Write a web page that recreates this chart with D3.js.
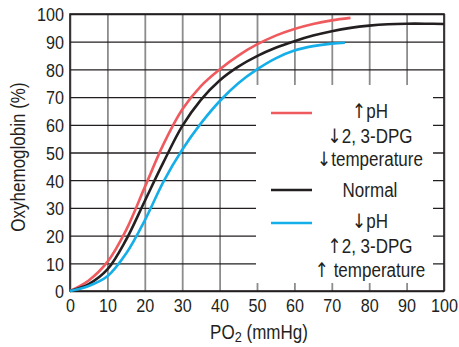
<!DOCTYPE html>
<html>
<head>
<meta charset="utf-8">
<script src="https://cdn.jsdelivr.net/npm/d3@7"></script>
<style>
  html, body { margin: 0; padding: 0; background: #fff; }
  svg text { font-family: "Liberation Sans", Arial, sans-serif; fill: #231f20; }
  svg tspan.arrow { font-family: "DejaVu Sans", sans-serif; }
</style>
</head>
<body>
<svg id="chart" width="459" height="347"></svg>
<script>
// ---- data ----
const xTicks = [0, 10, 20, 30, 40, 50, 60, 70, 80, 90, 100];
const yTicks = [0, 10, 20, 30, 40, 50, 60, 70, 80, 90, 100];

const leftPO2 = [0, 5, 10, 15, 20, 25, 30, 35, 40, 45, 50, 55, 60, 65, 70, 75];
const leftSat = [0, 3.8, 10.5, 22, 37.5, 53, 65.5, 74, 80, 85, 89, 92.2, 94.6, 96.4, 97.7, 98.6];

const normalPO2 = [0, 5, 10, 15, 20, 25, 30, 35, 40, 45, 50, 55, 60, 65, 70, 75, 80, 85, 90, 95, 100];
const normalSat = [0, 2.5, 7.8, 18.5, 32.5, 46.5, 59.5, 69, 76, 81, 84.8, 87.8, 90.2, 92.2, 93.8, 95, 95.8, 96.3, 96.5, 96.5, 96.4];

const rightPO2 = [0, 5, 10, 15, 20, 25, 30, 35, 40, 45, 50, 55, 60, 65, 70, 73.5];
const rightSat = [0, 1.8, 5.3, 13.5, 25.5, 39.5, 51, 60.5, 68.5, 75, 80, 84, 86.8, 88.4, 89.3, 89.6];

// legend entries: [arrow, rest] per line
const legendLabels = [
  [["\u2191", "pH"], ["\u2193", "2, 3-DPG"], ["\u2193", "temperature"]],
  [["", "Normal"]],
  [["\u2193", "pH"], ["\u2191", "2, 3-DPG"], ["\u2191", " temperature"]]
];
const seriesColors = ["#ef5a5e", "#231f20", "#14aee9"];

// ---- layout ----
const svg = d3.select("#chart");
const x = d3.scaleLinear().domain([0, 100]).range([70, 444]);
const y = d3.scaleLinear().domain([0, 100]).range([291, 14]);

// vertical grid (gray)
svg.append("g")
  .attr("transform", "translate(0,291)")
  .call(d3.axisBottom(x).tickValues(xTicks).tickSize(-(291 - 14)).tickFormat(""))
  .call(g => g.select(".domain").remove())
  .call(g => g.selectAll("line").attr("stroke", "#8c8c8c").attr("stroke-width", 1.8));

// horizontal grid (black)
svg.append("g")
  .attr("transform", "translate(70,0)")
  .call(d3.axisLeft(y).tickValues(yTicks).tickSize(-(444 - 70)).tickFormat(""))
  .call(g => g.select(".domain").remove())
  .call(g => g.selectAll("line").attr("stroke", "#231f20").attr("stroke-width", 1.3));

// frame
svg.append("rect")
  .attr("x", x(0)).attr("y", y(100))
  .attr("width", x(100) - x(0)).attr("height", y(0) - y(100))
  .attr("fill", "none").attr("stroke", "#231f20").attr("stroke-width", 1.6);

// tick labels
const yAxis = svg.append("g")
  .attr("transform", "translate(70,0)")
  .call(d3.axisLeft(y).tickValues(yTicks).tickSize(0).tickPadding(6).tickFormat(d3.format("d")))
  .call(g => g.select(".domain").remove());
yAxis.selectAll("text").attr("font-size", 19).attr("fill", "#231f20").attr("dy", "0.36em");

const xAxis = svg.append("g")
  .attr("transform", "translate(0,291)")
  .call(d3.axisBottom(x).tickValues(xTicks).tickSize(0).tickPadding(8).tickFormat(d3.format("d")))
  .call(g => g.select(".domain").remove());
xAxis.selectAll("text").attr("font-size", 19).attr("fill", "#231f20").attr("dy", "0.71em");
svg.selectAll("g").attr("font-family", null);

// curves
const line = d3.line().x(d => x(d[0])).y(d => y(d[1])).curve(d3.curveCatmullRom.alpha(0.5));
const series = [
  d3.zip(leftPO2, leftSat),
  d3.zip(normalPO2, normalSat),
  d3.zip(rightPO2, rightSat)
];
series.forEach((s, i) => {
  svg.append("path").datum(s)
    .attr("d", line)
    .attr("fill", "none")
    .attr("stroke", seriesColors[i])
    .attr("stroke-width", 2.6)
    .attr("stroke-linecap", "butt");
});

// legend box
svg.append("rect").attr("x", 256).attr("y", 85).attr("width", 177).attr("height", 198).attr("fill", "#fff");

const legendLineY = [113, 190, 223];
const legendTextY = [[118, 143, 166], [197], [228, 253, 277]];
legendLabels.forEach((lines, i) => {
  svg.append("line")
    .attr("x1", 271).attr("x2", 312)
    .attr("y1", legendLineY[i]).attr("y2", legendLineY[i])
    .attr("stroke", seriesColors[i]).attr("stroke-width", 2.6);
  lines.forEach((t, j) => {
    const tx = svg.append("text")
      .attr("x", 370).attr("y", legendTextY[i][j])
      .attr("text-anchor", "middle")
      .attr("font-size", 20);
    if (t[0]) tx.append("tspan").attr("class", "arrow").attr("font-size", 20).text(t[0]);
    tx.append("tspan").text(t[1]);
  });
});

// axis titles
svg.append("text")
  .attr("transform", "translate(25,157) rotate(-90)")
  .attr("text-anchor", "middle")
  .attr("font-size", 20)
  .text("Oxyhemoglobin (%)");

const xt = svg.append("text")
  .attr("x", 259).attr("y", 339)
  .attr("text-anchor", "middle")
  .attr("font-size", 20);
xt.append("tspan").text("PO");
xt.append("tspan").attr("font-size", 15).attr("dy", 3).text("2");
xt.append("tspan").attr("dy", -3).text(" (mmHg)");

// condensed look of the original typeface
svg.selectAll("text").each(function () {
  const w = this.getComputedTextLength();
  if (w > 0) d3.select(this).attr("textLength", w * 0.85).attr("lengthAdjust", "spacingAndGlyphs");
});
</script>
</body>
</html>
